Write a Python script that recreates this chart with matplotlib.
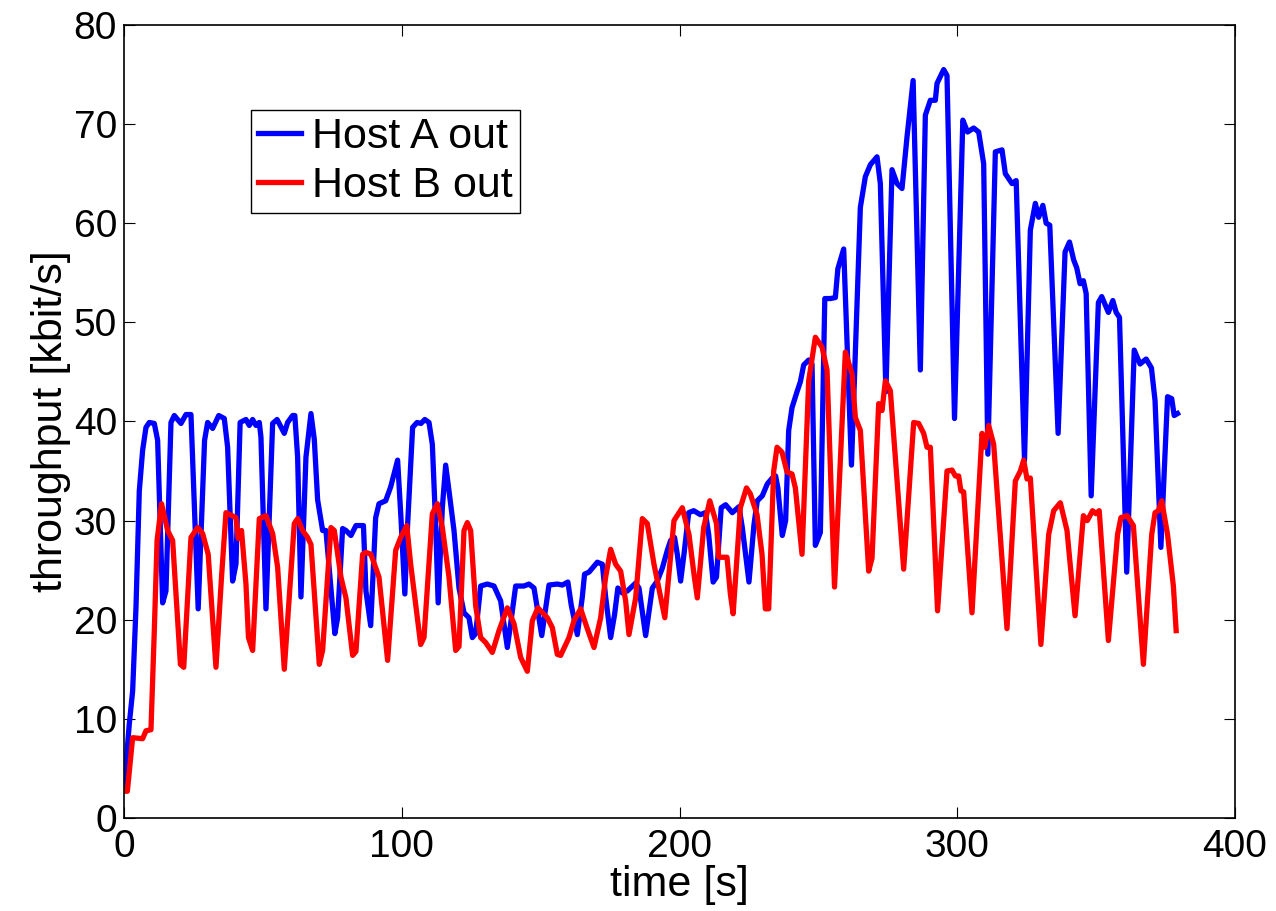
import matplotlib
matplotlib.use("Agg")
import matplotlib.pyplot as plt

# Host A out (blue): time [s], throughput [kbit/s]
host_a_t = [0, 1.9, 3.1, 4.3, 5.5, 6.7, 7.9, 9.1, 10.9, 12.1, 13.9, 15.1, 16.9, 18.1, 20.5, 22.3, 24.1,
            26.7, 29, 30.1, 31.9, 34.1, 36.1, 37.3, 39.1, 40.3, 41.8, 43.9, 45.1, 46.3, 47.5, 48.7, 49.3,
            51.1, 53.5, 55.1, 57.7, 58.9, 60.7, 61.5, 62.5, 63.7, 65.5, 67.3, 68.5, 69.7, 71.5, 72.7,
            75.9, 76.9, 78.7, 79.9, 81.7, 83.5, 86.2, 87.1, 88.8, 90.6, 91.8, 94.2, 96, 98.5, 99.7,
            101.1, 102.1, 103.9, 105.5, 106.9, 108.3, 109.8, 111, 112.2, 113.1, 114.6, 115.8, 117,
            118.8, 120.6, 122.4, 124.2, 125.4, 126.6, 128.4, 130.8, 133.2, 135.6, 138, 139.2, 141,
            144, 145.8, 147.6, 148.6, 150.4, 153, 156, 157.8, 159.8, 161, 163.2, 165, 165.8, 167.4,
            170.4, 172.2, 173.4, 175.2, 176.6, 177.8, 179.4, 181.2, 184.2, 185.4, 187.8, 190.2, 192,
            193.8, 195.6, 196.8, 198.2, 199.2, 200.4, 201.6, 203.3, 205.1, 207.5, 209.3, 210.5, 212.1,
            213.3, 215, 216.6, 219, 221.4, 222.6, 225, 226.8, 228, 229.8, 231.6, 233.4, 234.6, 235.4,
            237, 238.2, 239.3, 240.5, 242.3, 243.5, 244.7, 246.5, 247.7, 248.9, 250.7, 252.3, 254.3,
            256.1, 257, 259.1, 261.9, 265.1, 266.9, 268.7, 271.1, 272.3, 274.3, 276.5, 278.3, 280.1,
            281.9, 284.1, 286.7, 288.5, 290.3, 292.1, 292.7, 295.1, 296.3, 299, 302, 303.7, 305.9,
            307.7, 309.5, 311, 313.7, 316.1, 317.3, 319.7, 321.2, 324.2, 326.3, 328.1, 329.3, 330.8,
            332, 333.3, 336.3, 338.8, 340.4, 341.9, 343, 344.2, 345.4, 346.4, 348.2, 350.8, 352, 354.4,
            356, 357.2, 358.4, 361, 363.7, 365.8, 368, 369.9, 371.2, 373.3, 375.7, 377.2, 378.1, 379.3]
host_a_kbps = [3, 9.5, 12.8, 21.2, 33, 37.1, 39.4, 39.9, 39.8, 38.1, 21.7, 22.9, 39.9, 40.6, 39.8, 40.7, 40.7,
               21.1, 38.1, 39.9, 39.3, 40.6, 40.3, 37.4, 23.9, 25.6, 39.9, 40.2, 39.6, 40.2, 39.6, 39.9, 38.4,
               21.1, 39.8, 40.2, 38.8, 39.9, 40.6, 40.6, 36.4, 22.3, 36.4, 40.8, 38.2, 32.1, 29, 29,
               18.6, 20.2, 29.2, 29, 28.5, 29.5, 29.5, 22.9, 19.4, 30.3, 31.7, 32, 33.4, 36.1, 30.3,
               22.6, 29.6, 39.4, 39.9, 39.8, 40.2, 39.9, 37.7, 29.6, 21.7, 31.3, 35.6, 33,
               29, 23.2, 20.7, 20.2, 18.2, 18.6, 23.4, 23.6, 23.4, 21.9, 17.2, 19.6, 23.4,
               23.4, 23.6, 23.2, 21.5, 18.4, 23.5, 23.6, 23.5, 23.8, 21.5, 18.5, 22.3, 24.6, 24.8,
               25.8, 25.6, 22.3, 18.2, 20.5, 23.2, 22.7, 22.9, 23.7, 23.2, 18.4, 23.2, 23.9,
               25.2, 27, 28, 28.3, 26.6, 23.9, 26.6, 30.8, 31, 30.6, 30.8, 28.6, 23.8,
               24.3, 31.3, 31.6, 30.8, 31.4, 29.3, 23.8, 29.6, 32, 32.5, 33.7, 34.3, 34.5, 33.3,
               28.5, 30, 39.1, 41.4, 43, 44, 45.7, 46.2, 45.8, 27.5, 28.8, 52.4, 52.4,
               52.5, 55.4, 57.4, 35.6, 61.6, 64.7, 65.9, 66.7, 64, 43, 65.4, 64, 63.5,
               68.7, 74.4, 45.2, 70.9, 72.4, 72.4, 74.1, 75.5, 74.9, 40.3, 70.4, 69.2, 69.6,
               69.2, 66, 36.7, 67.2, 67.4, 65, 64, 64.3, 36.1, 59.3, 62, 60.6, 61.8,
               60, 59.8, 38.8, 57.1, 58.1, 56.3, 55.5, 53.9, 54.2, 52.9, 32.5, 52, 52.6, 51,
               52.2, 51, 50.5, 24.8, 47.2, 45.8, 46.3, 45.4, 42.1, 27.3, 42.5, 42.3, 40.6, 40.8]

# Host B out (red)
host_b_t = [0, 1.2, 3.1, 6.7, 7.9, 9.7, 10.9, 11.9, 13.5, 15.7, 17.5, 20.3, 21.5, 24.1, 26.5, 28.3, 30.3,
            33.1, 35.1, 36.7, 40.3, 41.1, 42.3, 43.9, 44.8, 46.3, 48.7, 51.1, 53.5, 55.3, 57.7, 61.3,
            62.5, 64.3, 66.1, 67.3, 70.3, 71.5, 74.5, 75.7, 78.1, 79.9, 82.3, 83.5, 85.9, 87.1, 88.9,
            91.8, 94.9, 97.8, 99.6, 101.8, 103.2, 106.8, 108, 111, 112.8, 114.6, 117, 119.4, 120.6,
            122.4, 123.6, 124.8, 126.6, 128.4, 130.2, 132.6, 135, 138, 140.4, 142.8, 145.2, 147, 149,
            152.4, 154.2, 156, 157.2, 160.2, 162, 164.4, 166.8, 169.2, 171.6, 173.4, 175.2, 177, 178.8,
            180.6, 181.8, 184.2, 186.6, 188.4, 190.8, 194.7, 198, 201, 203.4, 205.2, 206.4, 208.7,
            210.9, 213.3, 214.1, 217.1, 218.3, 219.3, 221.9, 224.1, 225.5, 227.9, 229.7, 230.9, 232.1,
            233.9, 235.1, 236.9, 238.7, 240.5, 241.7, 244.1, 246.5, 248.9, 251.3, 253.1, 255.8, 259.7,
            262.1, 263.3, 265.1, 268.1, 269.3, 271.7, 272.9, 274.1, 275.9, 280.7, 284.3, 286.1, 287.9,
            289.1, 290.3, 292.9, 296.3, 298.1, 299.3, 300.5, 301.3, 302.3, 305.3, 308.9, 309.9, 311.3,
            313.1, 317.9, 320.9, 322.7, 323.9, 325.1, 326.3, 330.1, 332.9, 334.7, 337.1, 339.5, 342.4,
            345.4, 346.8, 348.7, 349.9, 351.1, 354.4, 357.7, 358.9, 361.1, 363.4, 367, 370, 371.2,
            372.4, 373.6, 375.7, 377.8, 378.8]
host_b_kbps = [2.7, 2.7, 8.1, 8, 8.8, 8.9, 18.9, 28, 31.7, 29, 28, 15.5, 15.2, 28.3, 29.3, 28.7, 26.6,
               15.2, 24.3, 30.8, 30.3, 28.2, 29, 23.6, 18.2, 16.9, 30.2, 30.5, 28.7, 25.3, 15, 29.7,
               30.2, 29, 28.3, 27.6, 15.5, 16.9, 29.3, 29, 24.3, 22.2, 16.4, 16.8, 26.6, 26.8, 26.6,
               24.3, 15.9, 27, 28.3, 29.5, 25.6, 17.5, 18.2, 30.7, 31.7, 29.3, 24.3, 16.9, 17.3,
               29, 29.8, 29, 21.4, 18.2, 17.7, 16.7, 18.9, 21.2, 19.6, 16.2, 14.8, 19.9, 21.2,
               20.2, 19.2, 16.5, 16.4, 18.2, 19.9, 21.1, 19.1, 17.2, 20.2, 24.3, 27.1, 25.6, 24.9,
               21.9, 18.5, 22.2, 30.2, 29.7, 25.6, 20.2, 30, 31.3, 28.6, 24.6, 22.2, 29.3,
               32, 29.7, 26.3, 26.3, 22.6, 20.6, 31.3, 33.3, 32.7, 30.6, 26.6, 21.1, 21.1,
               35, 37.4, 36.9, 34.9, 34.7, 33.3, 26.6, 44.1, 48.5, 47.5, 45.2, 23.3, 47,
               44.8, 40.4, 39.1, 24.9, 26.2, 41.8, 41.1, 44.1, 43.1, 25.1, 39.9, 39.8, 38.8,
               37.4, 37.4, 20.9, 35, 35.1, 34.5, 34.5, 33, 32.9, 20.7, 38.8, 37.4, 39.6,
               37.7, 19.1, 34, 35, 36.1, 34.2, 34.3, 17.5, 28.6, 31, 31.8, 29, 20.4,
               30.5, 30, 31, 30.7, 31, 17.9, 28.6, 30.3, 30.5, 29.5, 15.5, 28.6, 30.8,
               31, 32, 28.6, 23.4, 18.9]

x_ticks = [0, 100, 200, 300, 400]
y_ticks = [0, 10, 20, 30, 40, 50, 60, 70, 80]

plt.rcParams["font.family"] = ["Liberation Sans", "DejaVu Sans"]

fig = plt.figure(figsize=(12.76, 9.11), dpi=100)
ax = fig.add_axes([0.0972, 0.1021, 0.8707, 0.8705])

ax.plot(host_a_t, host_a_kbps, color="#0000ff", lw=3.8, solid_joinstyle="round", label="Host A out")
ax.plot(host_b_t, host_b_kbps, color="#ff0000", lw=3.8, solid_joinstyle="round", label="Host B out")

ax.set_xlim(0, 400)
ax.set_ylim(0, 80)
ax.set_xticks(x_ticks)
ax.set_yticks(y_ticks)
ax.tick_params(direction="in", length=8, width=0.8, top=True, right=True, labelsize=28)
ax.tick_params(axis="x", pad=8)
ax.tick_params(axis="y", pad=5)
for sp in ax.spines.values():
    sp.set_linewidth(1.2)

ax.set_xlabel("time [s]", fontsize=31, labelpad=0)
ax.set_ylabel("throughput [kbit/s]", fontsize=31, labelpad=2)

leg = ax.legend(loc="upper left", bbox_to_anchor=(0.114, 0.893), borderaxespad=0,
                fontsize=31, fancybox=False, edgecolor="black", framealpha=1,
                handlelength=1.0, handletextpad=0.25, borderpad=0.17, labelspacing=0.2)
leg.get_frame().set_linewidth(1.0)

fig.savefig("out.png", dpi=100)
